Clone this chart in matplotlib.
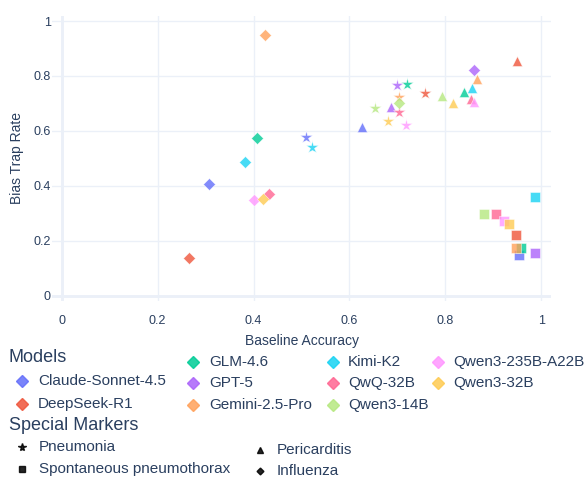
import matplotlib
matplotlib.use("Agg")
import matplotlib.pyplot as plt
from matplotlib.lines import Line2D

plt.rcParams['font.family'] = ['Liberation Sans', 'DejaVu Sans']

models = ['Claude-Sonnet-4.5', 'DeepSeek-R1', 'GLM-4.6', 'GPT-5', 'Gemini-2.5-Pro',
          'Kimi-K2', 'QwQ-32B', 'Qwen3-14B', 'Qwen3-235B-A22B', 'Qwen3-32B']
colors = ['#636EFA', '#EF553B', '#00CC96', '#AB63FA', '#FFA15A',
          '#19D3F3', '#FF6692', '#B6E880', '#FF97FF', '#FECB52']

# (baseline accuracy, bias trap rate) per model, one list per disease
influenza_x = [0.307, 0.265, 0.408, 0.859, 0.423, 0.382, 0.432, 0.704, 0.401, 0.419]
influenza_y = [0.407, 0.138, 0.576, 0.822, 0.948, 0.486, 0.371, 0.700, 0.349, 0.352]
pneumonia_x = [0.510, 0.758, 0.719, 0.698, 0.704, 0.521, 0.703, 0.653, 0.718, 0.680]
pneumonia_y = [0.577, 0.739, 0.770, 0.766, 0.725, 0.543, 0.670, 0.685, 0.623, 0.636]
pericard_x = [0.626, 0.950, 0.838, 0.686, 0.866, 0.855, 0.853, 0.793, 0.860, 0.816]
pericard_y = [0.615, 0.856, 0.743, 0.686, 0.790, 0.755, 0.716, 0.728, 0.705, 0.702]
pneumo_x = [0.953, 0.948, 0.958, 0.987, 0.948, 0.987, 0.906, 0.880, 0.923, 0.932]
pneumo_y = [0.148, 0.221, 0.176, 0.156, 0.176, 0.359, 0.298, 0.297, 0.274, 0.262]

diseases = [
    ('Pneumonia', '*', 9.5, pneumonia_x, pneumonia_y),
    ('Spontaneous pneumothorax', 's', 6.8, pneumo_x, pneumo_y),
    ('Pericarditis', '^', 6.8, pericard_x, pericard_y),
    ('Influenza', 'D', 5.8, influenza_x, influenza_y),
]

txt = '#2a3f5f'
grid = '#EBF0F8'

fig = plt.figure(figsize=(5.87, 4.80), dpi=100)
ax = fig.add_axes([0.0886, 0.372, 0.8501, 0.5957])

for i, m in enumerate(models):
    for name, mk, ms, xs, ys in diseases:
        ax.plot(xs[i], ys[i], linestyle='none', marker=mk, markersize=ms,
                color=colors[i], alpha=0.8, markeredgecolor='white',
                markeredgewidth=0.4, zorder=3)

ax.set_xlim(-0.02, 1.02)
ax.set_ylim(-0.02, 1.02)
ticks = [0, 0.2, 0.4, 0.6, 0.8, 1]
ticklabels = ['0', '0.2', '0.4', '0.6', '0.8', '1']
ax.set_xticks(ticks)
ax.set_xticklabels(ticklabels)
ax.set_yticks(ticks)
ax.set_yticklabels(ticklabels)
ax.grid(True, color=grid, linewidth=1, zorder=0)
ax.axhline(0, color=grid, linewidth=2, zorder=1)
ax.axvline(0, color=grid, linewidth=2, zorder=1)
for s in ax.spines.values():
    s.set_visible(False)
ax.tick_params(length=0, labelsize=9, labelcolor=txt)
ax.tick_params(axis='x', pad=9.5)
ax.tick_params(axis='y', pad=1)
ax.set_xlabel('Baseline Accuracy', fontsize=10, color=txt, labelpad=5)
ax.set_ylabel('Bias Trap Rate', fontsize=10, color=txt, labelpad=7)

H = 480.0
W = 587.0


def fx(px):
    return px / W


def fy(py):
    return 1 - py / H


def entry(mx, tx, py, marker, color, ms, label):
    fig.lines.append(Line2D([fx(mx)], [fy(py)], marker=marker, markersize=ms,
                            color=color, linestyle='none', alpha=0.85,
                            transform=fig.transFigure))
    fig.text(fx(tx), fy(py), label, fontsize=11, color=txt, va='center', ha='left')


fig.text(fx(9), fy(358), 'Models', fontsize=13, color=txt, va='center', ha='left')
cols = [(22, 38, [381, 404]), (193, 209, [362, 383, 405]),
        (333, 348, [362, 383, 405]), (438, 453, [362, 383])]
k = 0
for mx, tx, rows in cols:
    for py in rows:
        entry(mx, tx, py, 'D', colors[k], 6.5, models[k])
        k += 1

fig.text(fx(9), fy(426), 'Special Markers', fontsize=13, color=txt, va='center', ha='left')
spec = [(22, 39, 447, 0), (22, 39, 469, 1), (260, 277, 450, 2), (260, 277, 471, 3)]
for mx, tx, py, j in spec:
    name, mk, ms, _, _ = diseases[j]
    entry(mx, tx, py, mk, 'black', ms * 0.6, name)

fig.savefig('out.png', dpi=100)
